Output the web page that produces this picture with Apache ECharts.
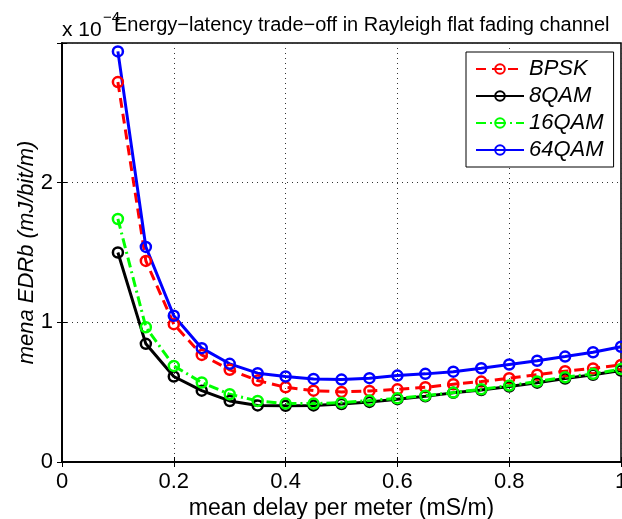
<!DOCTYPE html>
<html>
<head>
<meta charset="utf-8">
<script src="https://cdn.jsdelivr.net/npm/echarts@6/dist/echarts.min.js"></script>
<style>html,body{margin:0;padding:0;background:#fff;}#c{width:622px;height:519px;}</style>
</head>
<body>
<div id="c"></div>
<script>
// x values (mean delay per meter, mS/m)
const delays = [0.1, 0.15, 0.2, 0.25, 0.3, 0.35, 0.4, 0.45, 0.5, 0.55, 0.6, 0.65, 0.7, 0.75, 0.8, 0.85, 0.9, 0.95, 1.0];
// y values in units of 1e-4 mJ/bit/m
const bpsk  = [2.72, 1.44, 0.987, 0.767, 0.66, 0.583, 0.535, 0.511, 0.502, 0.509, 0.52, 0.535, 0.557, 0.576, 0.60, 0.625, 0.65, 0.67, 0.695];
const qam8  = [1.50, 0.846, 0.612, 0.511, 0.437, 0.405, 0.402, 0.405, 0.415, 0.43, 0.45, 0.47, 0.495, 0.515, 0.54, 0.568, 0.598, 0.625, 0.655];
const qam16 = [1.74, 0.965, 0.688, 0.569, 0.485, 0.437, 0.418, 0.418, 0.425, 0.44, 0.456, 0.475, 0.497, 0.521, 0.547, 0.576, 0.607, 0.631, 0.665];
const qam64 = [2.94, 1.54, 1.047, 0.815, 0.703, 0.636, 0.612, 0.595, 0.59, 0.60, 0.619, 0.631, 0.647, 0.671, 0.698, 0.725, 0.755, 0.786, 0.825];
const seriesNames = ['BPSK', '8QAM', '16QAM', '64QAM'];
const xTicks = [0, 0.2, 0.4, 0.6, 0.8, 1];
const yTicks = [0, 1, 2];

const FONT = '"Liberation Sans", Arial, Helvetica, sans-serif';
const chart = echarts.init(document.getElementById('c'), null, {renderer: 'canvas'});

function mk(name, vals, color, dash) {
  return {
    name: name, type: 'line',
    data: delays.map((d, i) => [d, vals[i]]),
    symbol: 'circle', symbolSize: 10,
    itemStyle: {color: 'rgba(255,255,255,0)', borderColor: color, borderWidth: 2.5},
    lineStyle: {color: color, width: 3, type: dash},
    emphasis: {disabled: true},
    animation: false
  };
}
const fmtX = v => xTicks.indexOf(Math.round(v * 10) / 10) >= 0 ? String(Math.round(v * 10) / 10) : '';
const fmtY = v => yTicks.indexOf(v) >= 0 ? String(v) : '';

const option = {
  backgroundColor: '#fff',
  animation: false,
  grid: {left: 62, right: 1, top: 43, bottom: 57, outerBoundsMode: 'none', containLabel: false,
         show: true, borderColor: '#000', borderWidth: 1.5, backgroundColor: 'transparent'},
  graphic: [
    {type: 'text', left: 62, top: 20, style: {text: 'x 10', font: '21px ' + FONT, fill: '#000'}},
    {type: 'text', left: 103, top: 10, style: {text: '\u22124', font: '15px ' + FONT, fill: '#000'}},
    {type: 'text', left: 114, top: 15, style: {text: 'Energy\u2212latency trade\u2212off in Rayleigh flat fading channel', font: '20px ' + FONT, fill: '#000'}}
  ],
  legend: {
    orient: 'vertical', left: 466, top: 52,
    data: seriesNames,
    backgroundColor: '#fff', borderColor: '#000', borderWidth: 1,
    padding: [6, 10, 6, 9], itemGap: 5, itemWidth: 48, itemHeight: 12,
    textStyle: {fontFamily: FONT, fontSize: 22, fontStyle: 'italic', color: '#000', lineHeight: 22}
  },
  xAxis: [{
    type: 'value', min: 0, max: 1, interval: 0.2,
    name: 'mean delay per meter (mS/m)', nameLocation: 'middle', nameGap: 35, nameMoveOverlap: false,
    nameTextStyle: {fontFamily: FONT, fontSize: 23, color: '#000'},
    axisLine: {show: true, lineStyle: {color: '#000', width: 1.5}},
    axisTick: {show: true, inside: true, length: 5, lineStyle: {color: '#000'}},
    axisLabel: {formatter: fmtX, fontFamily: FONT, fontSize: 22, color: '#000', margin: 9, showMaxLabel: true},
    splitLine: {show: true, lineStyle: {color: '#333', width: 1, type: [1, 4]}}
  }, {
    type: 'value', min: 0, max: 1, interval: 0.2, position: 'top',
    axisLine: {show: true, lineStyle: {color: '#000', width: 1.5}},
    axisTick: {show: true, inside: true, length: 5, lineStyle: {color: '#000'}},
    axisLabel: {show: false}, splitLine: {show: false}
  }],
  yAxis: [{
    type: 'value', min: 0, max: 3, interval: 1,
    name: 'mena EDRb (mJ/bit/m)', nameLocation: 'middle', nameGap: 24, nameMoveOverlap: false,
    nameTextStyle: {fontFamily: FONT, fontSize: 22, fontStyle: 'italic', color: '#000'},
    axisLine: {show: true, lineStyle: {color: '#000', width: 1.5}},
    axisTick: {show: true, inside: true, length: 5, lineStyle: {color: '#000'}},
    axisLabel: {formatter: fmtY, fontFamily: FONT, fontSize: 22, color: '#000', margin: 9},
    splitLine: {show: true, lineStyle: {color: '#333', width: 1, type: [1, 4]}}
  }, {
    type: 'value', min: 0, max: 3, interval: 1, position: 'right',
    axisLine: {show: true, lineStyle: {color: '#000', width: 1.5}},
    axisTick: {show: true, inside: true, length: 5, lineStyle: {color: '#000'}},
    axisLabel: {show: false}, splitLine: {show: false}
  }],
  series: [
    mk(seriesNames[0], bpsk, '#ff0000', [10, 6]),
    mk(seriesNames[1], qam8, '#000000', 'solid'),
    mk(seriesNames[2], qam16, '#00ff00', [10, 4, 2, 4]),
    mk(seriesNames[3], qam64, '#0000ff', 'solid')
  ]
};
chart.setOption(option);
</script>
</body>
</html>
